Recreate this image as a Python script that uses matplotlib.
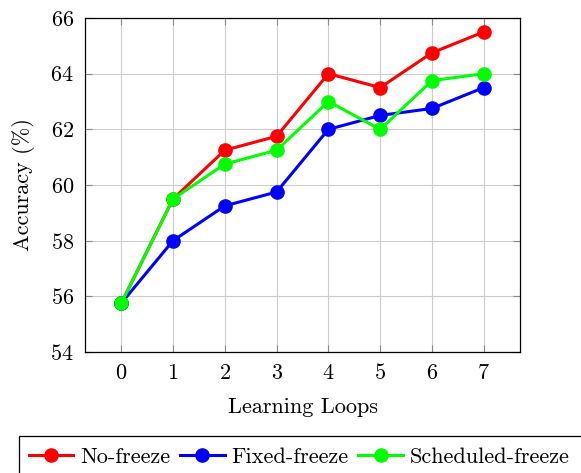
import matplotlib
matplotlib.use("Agg")
import matplotlib.pyplot as plt
from matplotlib.patches import Rectangle

plt.rcParams['font.family'] = ['cmr10', 'DejaVu Serif']
plt.rcParams['axes.formatter.use_mathtext'] = True
plt.rcParams['mathtext.fontset'] = 'cm'

loops = [0, 1, 2, 3, 4, 5, 6, 7]
no_freeze = [55.75, 59.5, 61.25, 61.75, 64.0, 63.5, 64.75, 65.5]
fixed_freeze = [55.75, 58.0, 59.25, 59.75, 62.0, 62.5, 62.75, 63.5]
scheduled_freeze = [55.75, 59.5, 60.75, 61.25, 63.0, 62.0, 63.75, 64.0]
yticks = [54, 56, 58, 60, 62, 64, 66]

FS = 16

fig = plt.figure(figsize=(5.81, 4.73), dpi=100)
ax = fig.add_axes([85/581, 1-352/473, 435/581, 334/473])

series = [("No-freeze", no_freeze, "#ff0000"),
          ("Fixed-freeze", fixed_freeze, "#0000ff"),
          ("Scheduled-freeze", scheduled_freeze, "#00ff00")]
for name, vals, c in series:
    ax.plot(loops, vals, color=c, lw=2.2, marker='o', ms=9.5, mfc=c, mec=c,
            label=name, zorder=3)

ax.set_xlim(-0.7, 7.7)
ax.set_ylim(54, 66)
ax.set_xticks(loops)
ax.set_yticks(yticks)
ax.grid(True, color='#cccccc', lw=0.8)
ax.set_axisbelow(True)
ax.tick_params(direction='in', length=5, width=0.8, color='#888888',
               top=True, right=True, labelsize=FS, pad=8)
for s in ax.spines.values():
    s.set_linewidth(0.9)
    s.set_color('black')
ax.set_xlabel("Learning Loops", fontsize=FS, labelpad=10)
ax.set_ylabel("Accuracy (%)", fontsize=FS, labelpad=11)

leg = ax.legend(loc='center left', bbox_to_anchor=(29/581, 1-457/473),
                bbox_transform=fig.transFigure, ncol=3, fontsize=FS,
                frameon=False, handlelength=2.0, handletextpad=0.3,
                columnspacing=0.45, borderpad=0, borderaxespad=0)

fig.patches.append(Rectangle((19/581, -0.1), 1.0, (1-436/473)+0.1,
                             transform=fig.transFigure, fill=False,
                             lw=0.9, edgecolor='black'))

fig.savefig("out.png", dpi=100)
